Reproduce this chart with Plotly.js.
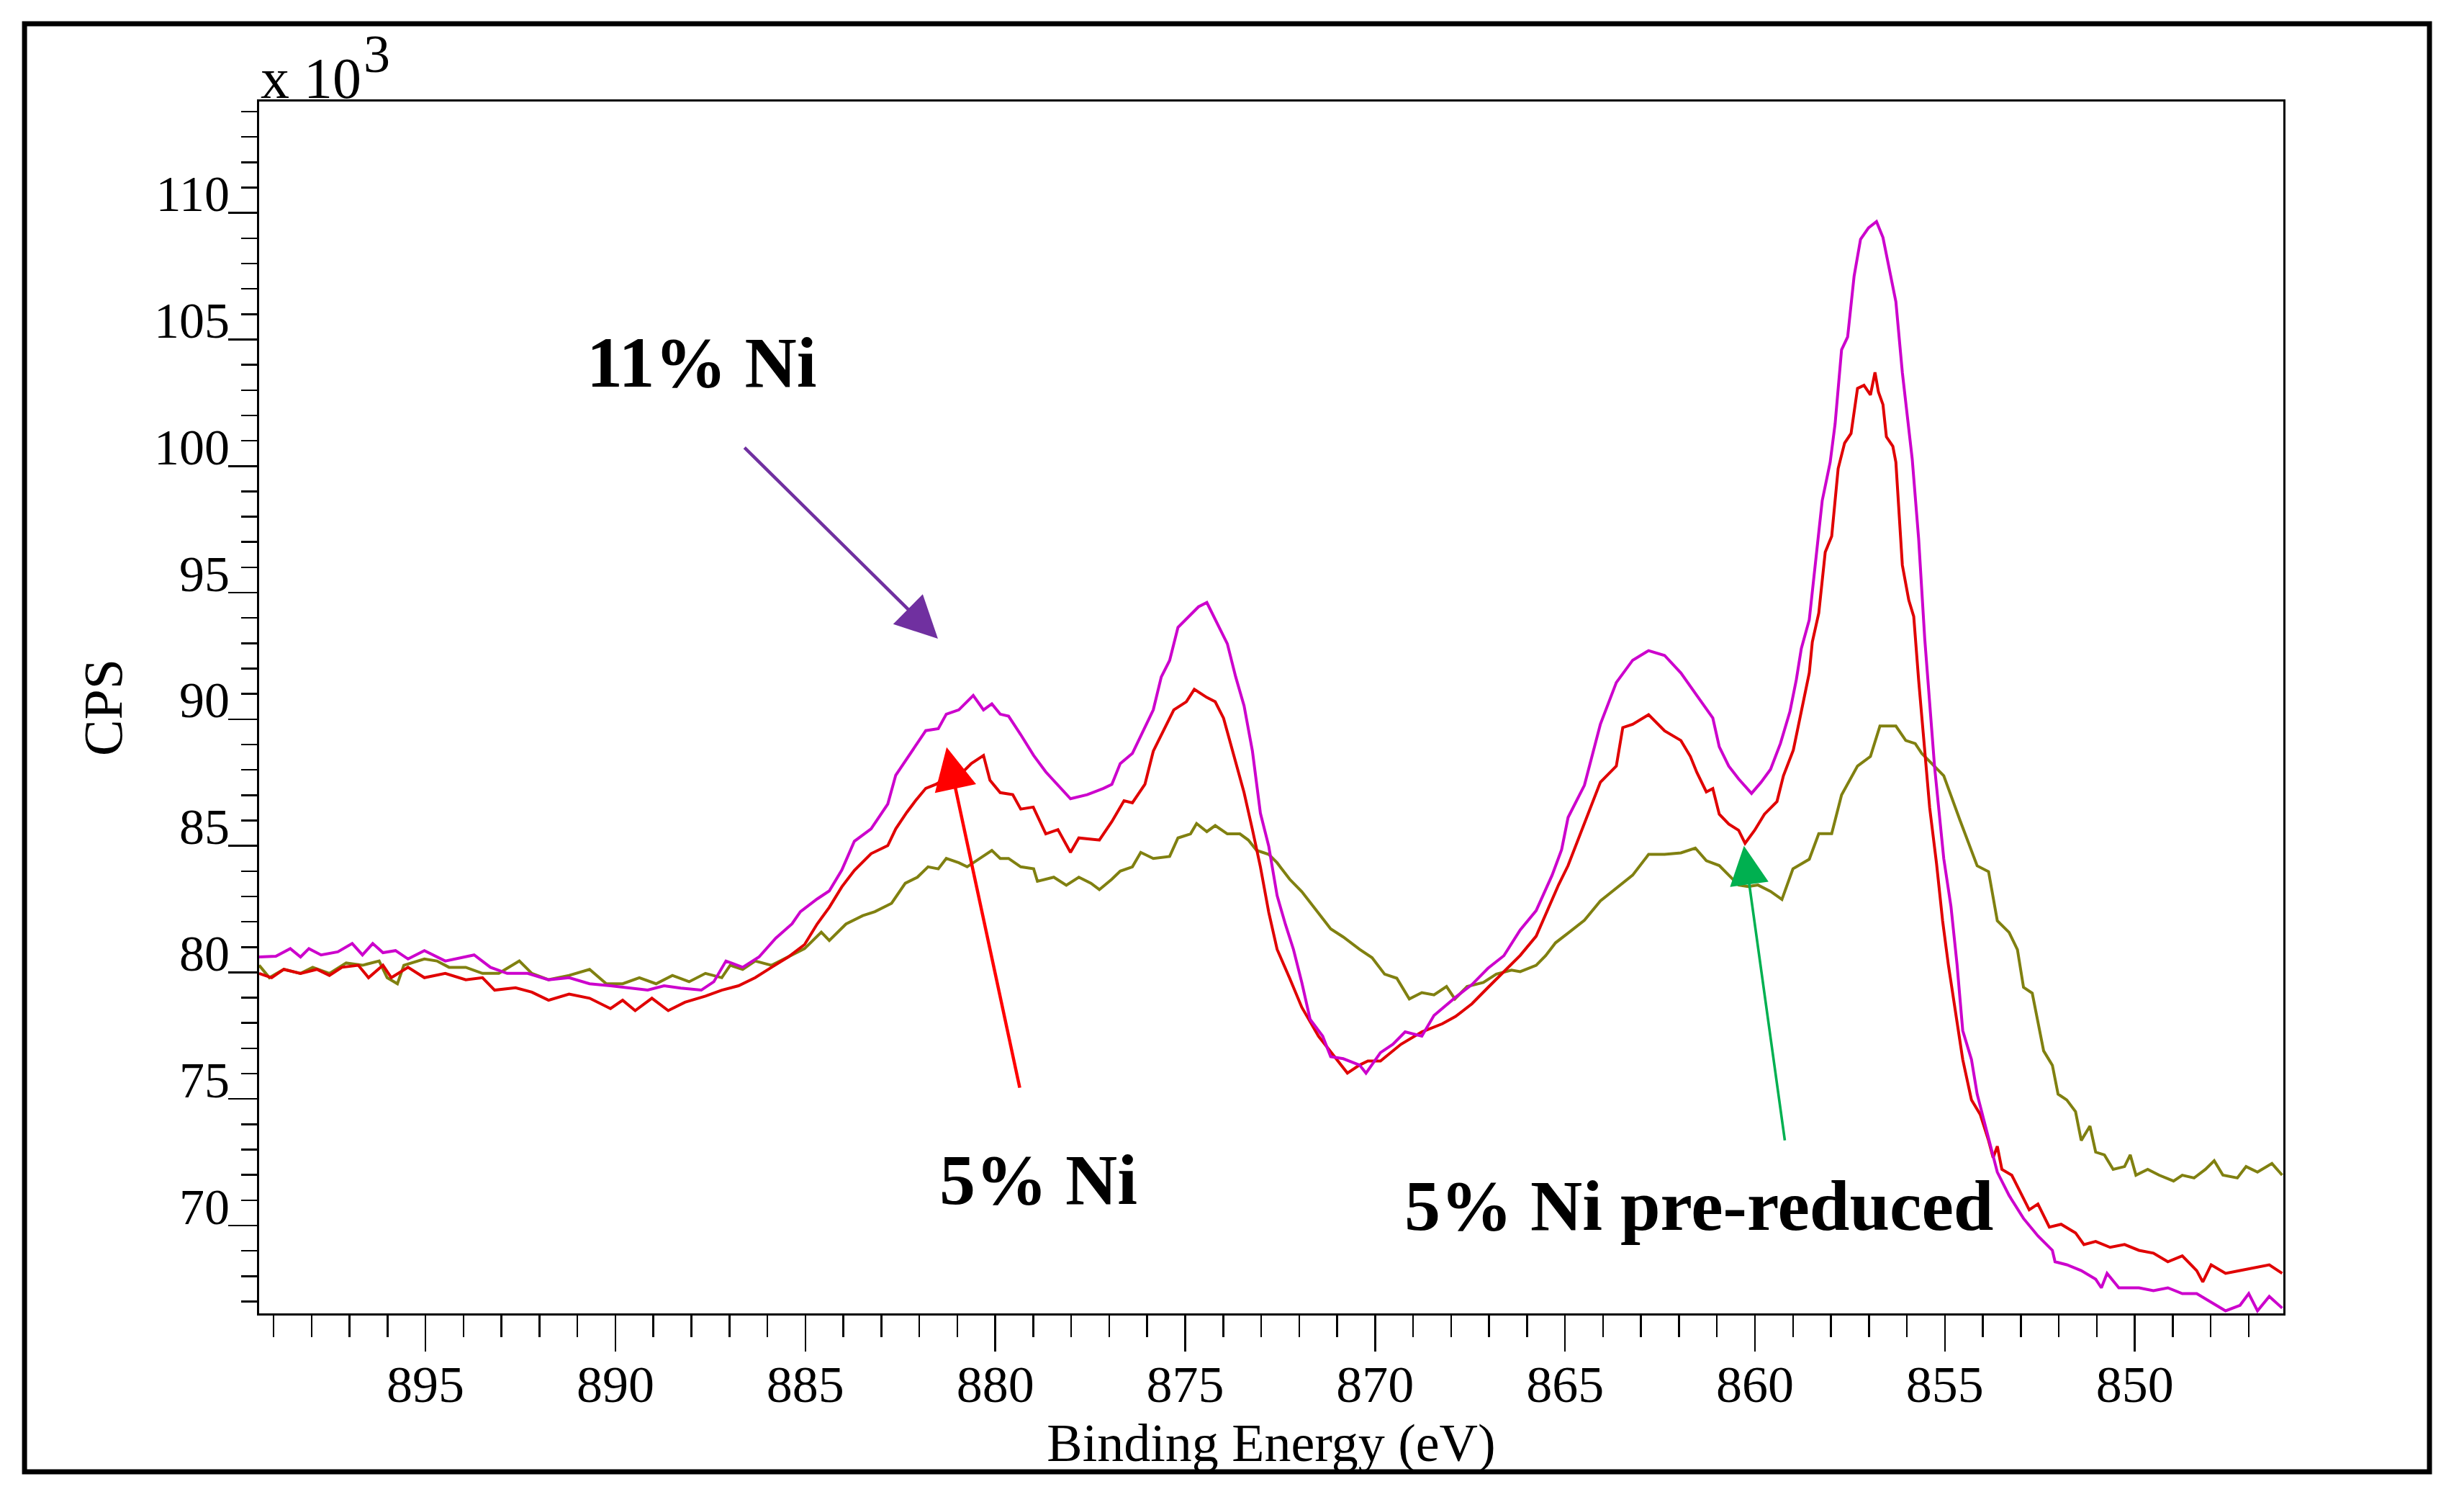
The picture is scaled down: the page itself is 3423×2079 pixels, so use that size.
<!DOCTYPE html>
<html>
<head>
<meta charset="utf-8">
<script src="https://cdn.plot.ly/plotly-3.0.1.min.js"></script>
<style>
  html, body { margin: 0; padding: 0; background: #fff; }
  #xps_chart { width: 3423px; height: 2079px; }
</style>
</head>
<body>
<div id="xps_chart"></div>
<script>
// Ni 2p XPS spectra, binding energy (eV) vs CPS (x 10^3)
var ni11_pts = [
    [899.38,80.61],[898.94,80.64],[898.56,80.94],[898.29,80.61],[898.07,80.94],[897.75,80.69],[897.31,80.81],
    [896.93,81.14],[896.66,80.69],[896.39,81.14],[896.12,80.78],[895.79,80.86],[895.46,80.53],[895.03,80.86],
    [894.48,80.45],[893.72,80.69],[893.29,80.2],[892.85,79.96],[892.31,79.96],[891.76,79.71],[891.22,79.79],
    [890.68,79.55],[890.13,79.47],[889.59,79.38],[889.15,79.3],[888.72,79.47],[888.28,79.38],[887.74,79.3],
    [887.41,79.63],[887.09,80.45],[886.65,80.2],[886.22,80.61],[885.78,81.35],[885.35,81.92],[885.13,82.4],
    [884.69,82.9],[884.37,83.22],[884.04,84.04],[883.71,85.18],[883.27,85.67],[882.83,86.65],[882.62,87.79],
    [882.33,88.44],[882.05,89.06],[881.83,89.55],[881.5,89.63],[881.29,90.2],[880.96,90.37],[880.58,90.94],
    [880.31,90.37],[880.09,90.61],[879.87,90.2],[879.65,90.12],[879.33,89.39],[878.99,88.57],[878.67,87.92],
    [878.46,87.59],[878.02,86.86],[877.58,87.02],[877.15,87.27],[876.93,87.43],[876.71,88.25],[876.39,88.65],
    [876.06,89.71],[875.84,90.37],[875.63,91.67],[875.41,92.32],[875.19,93.63],[874.87,94.12],[874.65,94.44],
    [874.43,94.61],[874.21,93.95],[873.89,92.98],[873.67,91.67],[873.45,90.53],[873.23,88.74],[873.02,86.29],
    [872.8,84.98],[872.58,83.03],[872.36,81.89],[872.15,80.91],[871.93,79.6],[871.71,78.14],[871.38,77.48],
    [871.17,76.67],[870.84,76.59],[870.41,76.34],[870.24,76.02],[869.86,76.83],[869.53,77.16],[869.21,77.65],
    [868.77,77.48],[868.45,78.3],[867.88,79.02],[867.45,79.52],[867.03,80.16],[866.61,80.66],[866.18,81.68],
    [865.76,82.44],[865.34,83.84],[865.09,84.85],[864.92,86.12],[864.49,87.39],[864.07,89.8],[863.65,91.45],
    [863.22,92.33],[862.8,92.71],[862.38,92.52],[861.95,91.83],[861.53,90.94],[861.11,90.05],[860.94,88.91],
    [860.69,88.15],[860.43,87.64],[860.09,87.07],[859.84,87.51],[859.59,88.02],[859.33,89.04],[859.08,90.3],
    [858.91,91.57],[858.78,92.79],[858.57,93.93],[858.44,95.71],[858.23,98.63],[858.02,100.15],[857.89,101.67],
    [857.72,104.59],[857.56,105.1],[857.39,107.5],[857.22,108.96],[857.01,109.41],[856.8,109.66],[856.63,109.03],
    [856.46,107.76],[856.29,106.49],[856.12,103.7],[855.86,100.28],[855.69,97.11],[855.53,93.17],[855.27,88.1],
    [855.03,84.5],[854.84,82.61],[854.68,80.32],[854.53,77.7],[854.3,76.56],[854.15,75.19],[853.92,73.82],
    [853.62,72.11],[853.31,71.19],[852.93,70.28],[852.55,69.59],[852.17,69.02],[852.1,68.57],[851.79,68.45],
    [851.41,68.22],[851.03,67.88],[850.88,67.54],[850.73,68.11],[850.42,67.54],[849.89,67.54],[849.51,67.43],
    [849.13,67.54],[848.75,67.31],[848.37,67.31],[847.99,66.97],[847.61,66.63],[847.23,66.85],[847.0,67.31],
    [846.77,66.63],[846.46,67.2],[846.12,66.74]
];

var ni5_pts = [
    [899.38,79.96],[899.05,79.79],[898.73,80.12],[898.29,79.96],[897.86,80.12],[897.53,79.88],[897.2,80.2],
    [896.77,80.28],[896.5,79.79],[896.12,80.28],[895.9,79.79],[895.46,80.2],[895.03,79.79],[894.48,79.96],
    [893.94,79.71],[893.5,79.79],[893.18,79.3],[892.63,79.39],[892.2,79.22],[891.76,78.9],[891.22,79.14],
    [890.68,78.98],[890.13,78.57],[889.81,78.9],[889.48,78.49],[889.04,78.98],[888.61,78.49],[888.17,78.82],
    [887.63,79.06],[887.2,79.3],[886.76,79.47],[886.32,79.79],[885.89,80.2],[885.45,80.61],[885.02,81.1],
    [884.69,81.91],[884.37,82.57],[884.04,83.38],[883.71,84.03],[883.27,84.69],[882.83,85.01],[882.62,85.67],
    [882.33,86.32],[882.1,86.78],[881.83,87.27],[881.56,87.43],[881.29,87.68],[880.96,87.76],[880.63,88.25],
    [880.31,88.57],[880.14,87.59],[879.87,87.1],[879.54,87.02],[879.33,86.45],[879.0,86.53],[878.67,85.47],
    [878.35,85.64],[878.02,84.74],[877.8,85.31],[877.26,85.23],[876.93,85.96],[876.61,86.78],[876.39,86.7],
    [876.06,87.43],[875.84,88.74],[875.63,89.39],[875.3,90.37],[874.97,90.69],[874.76,91.18],[874.43,90.86],
    [874.21,90.69],[873.99,90.04],[873.67,88.25],[873.45,87.1],[873.23,85.64],[873.02,84.17],[872.8,82.37],
    [872.58,80.91],[872.25,79.77],[871.93,78.62],[871.49,77.48],[871.06,76.67],[870.73,76.02],[870.41,76.34],
    [870.19,76.5],[869.86,76.5],[869.32,77.16],[868.77,77.65],[868.23,77.97],[867.88,78.26],[867.45,78.76],
    [867.03,79.4],[866.61,80.03],[866.18,80.67],[865.76,81.43],[865.51,82.31],[865.17,83.46],[864.92,84.22],
    [864.66,85.23],[864.32,86.5],[864.07,87.51],[863.65,88.15],[863.48,89.67],[863.22,89.8],[862.8,90.18],
    [862.38,89.54],[861.95,89.16],[861.7,88.53],[861.53,87.9],[861.28,87.13],[861.11,87.26],[860.94,86.25],
    [860.69,85.86],[860.43,85.61],[860.26,85.1],[860.01,85.61],[859.75,86.25],[859.42,86.75],[859.25,87.77],
    [858.99,88.78],[858.74,90.68],[858.57,91.83],[858.49,93.05],[858.32,94.19],[858.15,96.6],[857.98,97.23],
    [857.81,99.9],[857.64,100.91],[857.47,101.29],[857.3,103.07],[857.13,103.19],[856.96,102.81],[856.84,103.7],
    [856.75,102.93],[856.63,102.43],[856.54,101.16],[856.37,100.78],[856.29,100.15],[856.12,96.09],[855.95,94.7],
    [855.82,94.06],[855.69,91.53],[855.4,86.5],[855.22,84.3],[855.06,82.04],[854.91,80.32],[854.68,78.04],
    [854.53,76.56],[854.3,74.96],[854.07,74.39],[853.85,73.36],[853.73,72.68],[853.62,73.13],[853.5,72.22],
    [853.24,71.99],[852.93,71.08],[852.78,70.62],[852.55,70.85],[852.25,69.94],[851.94,70.05],[851.56,69.71],
    [851.34,69.25],[851.03,69.37],[850.65,69.14],[850.27,69.25],[849.89,69.02],[849.51,68.91],[849.13,68.57],
    [848.75,68.8],[848.37,68.22],[848.21,67.77],[847.99,68.45],[847.61,68.11],[847.23,68.22],[846.84,68.34],
    [846.46,68.45],[846.12,68.11]
];

var ni5_red_pts = [
    [899.38,80.28],[899.11,79.79],[898.73,80.12],[898.29,79.96],[897.97,80.2],[897.53,79.96],[897.09,80.37],
    [896.66,80.28],[896.22,80.45],[896.01,79.79],[895.74,79.55],[895.57,80.28],[895.03,80.53],[894.7,80.45],
    [894.38,80.2],[893.94,80.2],[893.5,79.96],[893.07,79.96],[892.53,80.45],[892.2,79.96],[891.76,79.71],
    [891.22,79.88],[890.68,80.12],[890.24,79.55],[889.81,79.55],[889.37,79.79],[888.93,79.55],[888.5,79.88],
    [888.06,79.63],[887.63,79.96],[887.2,79.79],[886.98,80.28],[886.65,80.12],[886.32,80.45],[885.89,80.28],
    [885.45,80.61],[885.02,80.94],[884.58,81.59],[884.37,81.26],[883.93,81.91],[883.49,82.24],[883.17,82.4],
    [882.73,82.73],[882.37,83.52],[882.05,83.76],[881.77,84.17],[881.5,84.09],[881.29,84.5],[880.96,84.33],
    [880.74,84.17],[880.41,84.5],[880.09,84.82],[879.87,84.5],[879.65,84.5],[879.33,84.17],[878.99,84.09],
    [878.89,83.6],[878.46,83.76],[878.13,83.44],[877.8,83.76],[877.48,83.52],[877.26,83.27],[876.93,83.68],
    [876.71,84.0],[876.39,84.17],[876.17,84.74],[875.84,84.5],[875.41,84.58],[875.19,85.31],[874.86,85.47],
    [874.7,85.88],[874.43,85.56],[874.21,85.8],[873.89,85.47],[873.56,85.47],[873.34,85.23],[873.12,84.82],
    [872.8,84.66],[872.58,84.33],[872.25,83.68],[871.93,83.19],[871.6,82.54],[871.17,81.72],[870.84,81.4],
    [870.41,80.91],[870.08,80.58],[869.75,79.93],[869.43,79.77],[869.1,78.95],[868.77,79.2],[868.45,79.11],
    [868.12,79.44],[867.9,78.95],[867.58,79.44],[867.15,79.6],[866.81,79.93],[866.41,80.09],[866.18,80.03],
    [865.76,80.28],[865.51,80.66],[865.25,81.17],[864.92,81.55],[864.49,82.06],[864.07,82.82],[863.65,83.33],
    [863.22,83.84],[862.8,84.66],[862.38,84.66],[861.95,84.72],[861.57,84.91],[861.28,84.41],[860.94,84.22],
    [860.69,83.84],[860.43,83.45],[860.18,83.39],[859.92,83.45],[859.59,83.2],[859.29,82.88],[859.0,84.09],
    [858.57,84.47],[858.32,85.48],[857.98,85.48],[857.72,87.01],[857.3,88.15],[856.96,88.53],[856.71,89.73],
    [856.29,89.73],[856.03,89.16],[855.78,89.04],[855.61,88.65],[855.36,88.27],[855.03,87.77],[854.6,86.0],
    [854.15,84.21],[853.85,83.98],[853.62,82.04],[853.31,81.58],[853.09,80.9],[852.93,79.41],[852.7,79.18],
    [852.55,78.04],[852.4,76.9],[852.17,76.33],[852.02,75.19],[851.79,74.96],[851.56,74.5],[851.41,73.36],
    [851.18,73.93],[851.03,72.9],[850.8,72.79],[850.57,72.22],[850.27,72.33],[850.12,72.79],[849.97,71.99],
    [849.66,72.22],[849.36,71.99],[848.98,71.76],[848.75,71.99],[848.44,71.88],[848.14,72.22],[847.91,72.56],
    [847.68,71.99],[847.3,71.88],[847.07,72.33],[846.77,72.11],[846.39,72.45],[846.12,71.99]
];

var y_ticks = [70, 75, 80, 85, 90, 95, 100, 105, 110];
var x_ticks = [895, 890, 885, 880, 875, 870, 865, 860, 855, 850];

function col(pts, i) {
    return pts.map(function (p) { return p[i]; });
}

var serif = 'Liberation Serif, Times New Roman, serif';

var trace1 = {
    x: col(ni11_pts, 0),
    y: col(ni11_pts, 1),
    mode: 'lines',
    type: 'scatter',
    name: '11% Ni',
    line: { color: '#cc00cc', width: 4 }
};

var trace2 = {
    x: col(ni5_pts, 0),
    y: col(ni5_pts, 1),
    mode: 'lines',
    type: 'scatter',
    name: '5% Ni',
    line: { color: '#e00000', width: 4 }
};

var trace3 = {
    x: col(ni5_red_pts, 0),
    y: col(ni5_red_pts, 1),
    mode: 'lines',
    type: 'scatter',
    name: '5% Ni pre-reduced',
    line: { color: '#808010', width: 4 }
};

var data = [trace3, trace2, trace1];

var layout = {
    width: 3423,
    height: 2079,
    showlegend: false,
    paper_bgcolor: 'white',
    plot_bgcolor: 'white',
    margin: { l: 360, r: 251, t: 141, b: 255, pad: 0 },
    font: { family: serif, color: 'black' },
    xaxis: {
        range: [899.38, 846.09],
        showgrid: false,
        zeroline: false,
        showline: true,
        mirror: true,
        linecolor: 'black',
        linewidth: 3,
        tickvals: x_ticks,
        ticks: 'outside',
        ticklen: 50,
        tickwidth: 2.5,
        tickcolor: 'black',
        ticklabelstandoff: -16,
        tickfont: { family: serif, size: 72, color: 'black' },
        minor: { dtick: 1, ticks: 'outside', ticklen: 30, tickwidth: 2.5, tickcolor: 'black', showgrid: false },
        title: {
            text: 'Binding Energy (eV)',
            font: { family: serif, size: 74, color: 'black' },
            standoff: 0
        }
    },
    yaxis: {
        range: [66.53, 114.4],
        showgrid: false,
        zeroline: false,
        showline: true,
        mirror: true,
        linecolor: 'black',
        linewidth: 3,
        tickvals: y_ticks,
        ticks: 'outside',
        ticklen: 40,
        tickwidth: 2.5,
        tickcolor: 'black',
        ticklabelshift: -27,
        ticklabelstandoff: -16,
        tickfont: { family: serif, size: 70, color: 'black' },
        minor: { dtick: 1, ticks: 'outside', ticklen: 22, tickwidth: 2.5, tickcolor: 'black', showgrid: false },
        title: {
            text: 'CPS',
            font: { family: serif, size: 76, color: 'black' },
            standoff: 20
        }
    },
    shapes: [
        {
            type: 'rect', xref: 'paper', yref: 'paper',
            x0: -0.1159, x1: 1.0722, y0: -0.1307, y1: 1.0642,
            line: { color: 'black', width: 7 }
        }
    ],
    annotations: [
        {
            xref: 'paper', yref: 'paper', x: 0, y: 1,
            xanchor: 'left', yanchor: 'bottom', yshift: -14, showarrow: false,
            text: 'x 10',
            font: { family: serif, size: 80, color: 'black' }
        },
        {
            xref: 'paper', yref: 'paper', x: 0.0509, y: 1.0137,
            xanchor: 'left', yanchor: 'bottom', showarrow: false,
            text: '3',
            font: { family: serif, size: 74, color: 'black' }
        },
        {
            x: 887.74, y: 104.09, showarrow: false,
            text: '<b>11% Ni</b>',
            font: { family: serif, size: 100, color: 'black' }
        },
        {
            x: 878.86, y: 71.82, showarrow: false,
            text: '<b>5% Ni</b>',
            font: { family: serif, size: 100, color: 'black' }
        },
        {
            x: 861.48, y: 70.77, showarrow: false,
            text: '<b>5% Ni pre-reduced</b>',
            font: { family: serif, size: 100, color: 'black' }
        },
        {
            x: 881.51, y: 93.18, axref: 'x', ayref: 'y', ax: 886.63, ay: 100.77,
            text: '', showarrow: true, arrowhead: 2, arrowsize: 2.6, arrowwidth: 4.5,
            arrowcolor: '#7030a0', standoff: 0
        },
        {
            x: 881.28, y: 88.89, axref: 'x', ayref: 'y', ax: 879.35, ay: 75.4,
            text: '', showarrow: true, arrowhead: 2, arrowsize: 2.6, arrowwidth: 4.5,
            arrowcolor: '#ff0000', standoff: 0
        },
        {
            x: 860.29, y: 85.0, axref: 'x', ayref: 'y', ax: 859.21, ay: 73.32,
            text: '', showarrow: true, arrowhead: 2, arrowsize: 3, arrowwidth: 3.6,
            arrowcolor: '#00b050', standoff: 0
        }
    ]
};

Plotly.newPlot('xps_chart', data, layout, {displayModeBar: false, staticPlot: true});
</script>
</body>
</html>
